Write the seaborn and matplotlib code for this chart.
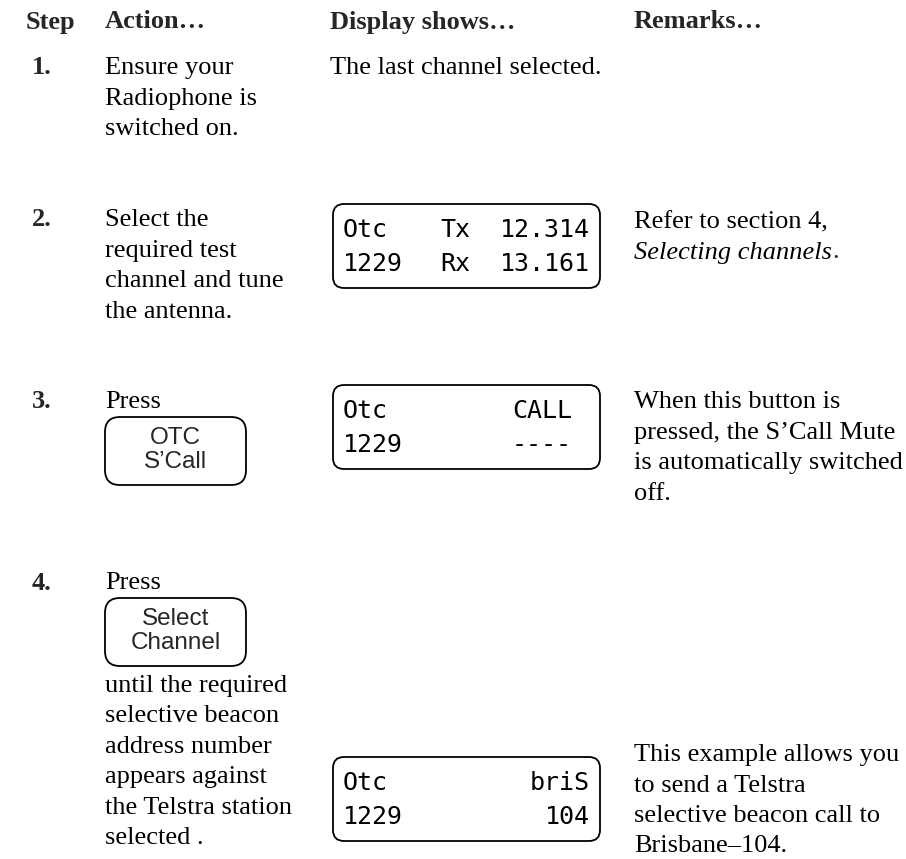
import matplotlib.pyplot as plt
import seaborn as sns
from matplotlib.patches import FancyBboxPatch

sns.set_theme(style='white')
plt.rcParams['font.family'] = ['Liberation Serif', 'DejaVu Serif']

headers = ['Step', 'Action…', 'Display shows…', 'Remarks…']
steps = ['1.', '2.', '3.', '4.']
actions = [
    ['Ensure your', 'Radiophone is', 'switched on.'],
    ['Select the', 'required test', 'channel and tune', 'the antenna.'],
    ['Press'],
    ['Press'],
]
buttons = [None, None, ['OTC', 'S’Call'], ['Select', 'Channel']]
actions_after = [[], [], [], ['until the required', 'selective beacon', 'address number',
                              'appears against', 'the Telstra station', 'selected .']]
display_text = ['The last channel selected.', None, None, None]
display_left = [None, ['Otc', '1229'], ['Otc', '1229'], ['Otc', '1229']]
display_mid = [None, ['Tx', 'Rx'], ['', ''], ['', '']]
display_right = [None, ['12.314', '13.161'], ['CALL', '----'], ['briS', '104']]
remarks = [
    [],
    ['Refer to section 4,', 'Selecting channels'],
    ['When this button is', 'pressed, the S’Call Mute', 'is automatically switched', 'off.'],
    ['This example allows you', 'to send a Telstra', 'selective beacon call to', 'Brisbane–104.'],
]

# layout (pixels)
step_y = [68, 220, 402, 583]
display_top = [None, 204, 385, 757]
remark_y = [68, 222, 402, 755]
right_end = [None, 590, 572, 590]
line_h = 30.5
col_x = [26, 105, 330, 634]

fig = plt.figure(figsize=(9.06, 8.59), dpi=100)
ax = fig.add_axes([0, 0, 1, 1])
ax.set_xlim(0, 906)
ax.set_ylim(859, 0)
ax.axis('off')

body = dict(fontsize=19, va='center', ha='left', color='black')
lcd = dict(fontsize=18, va='center', family='DejaVu Sans Mono', color='black')

for x, h in zip(col_x, headers):
    ax.text(x, 22, h, fontsize=19, fontweight='bold', va='center', ha='left')

for i, s in enumerate(steps):
    y0 = step_y[i]
    ax.text(32, y0, s, fontsize=19, fontweight='bold', va='center', ha='left')
    y = y0
    for line in actions[i]:
        ax.text(col_x[1], y, line, **body)
        y += line_h
    if buttons[i]:
        top = y0 + 15
        ax.add_patch(FancyBboxPatch((105, top), 141, 68,
                                    boxstyle='round,pad=0,rounding_size=15',
                                    fc='white', ec='black', lw=1.3))
        for k, b in enumerate(buttons[i]):
            ax.text(175.5, top + 21 + k * 24, b, fontsize=17.5, family='Liberation Sans',
                    ha='center', va='center')
        y = top + 68 + 20
    for line in actions_after[i]:
        ax.text(col_x[1], y, line, **body)
        y += line_h

    # display column
    if display_text[i]:
        ax.text(col_x[2], y0, display_text[i], **body)
    else:
        top = display_top[i]
        ax.add_patch(FancyBboxPatch((333, top), 267, 84,
                                    boxstyle='round,pad=0,rounding_size=11',
                                    fc='white', ec='black', lw=1.3))
        for k in range(2):
            yy = top + 26 + k * 34
            ax.text(343, yy, display_left[i][k], ha='left', **lcd)
            ax.text(440, yy, display_mid[i][k], ha='left', **lcd)
            ax.text(right_end[i], yy, display_right[i][k], ha='right', **lcd)

    # remarks column
    y = remark_y[i]
    for k, line in enumerate(remarks[i]):
        if i == 1 and k == 1:
            t = ax.text(col_x[3], y, line, fontstyle='italic', **body)
            ax.annotate('.', xy=(1, 0), xycoords=t, va='bottom', ha='left',
                        fontsize=19)
        else:
            ax.text(col_x[3], y, line, **body)
        y += line_h

fig.savefig('out.png', dpi=100, facecolor='white')
